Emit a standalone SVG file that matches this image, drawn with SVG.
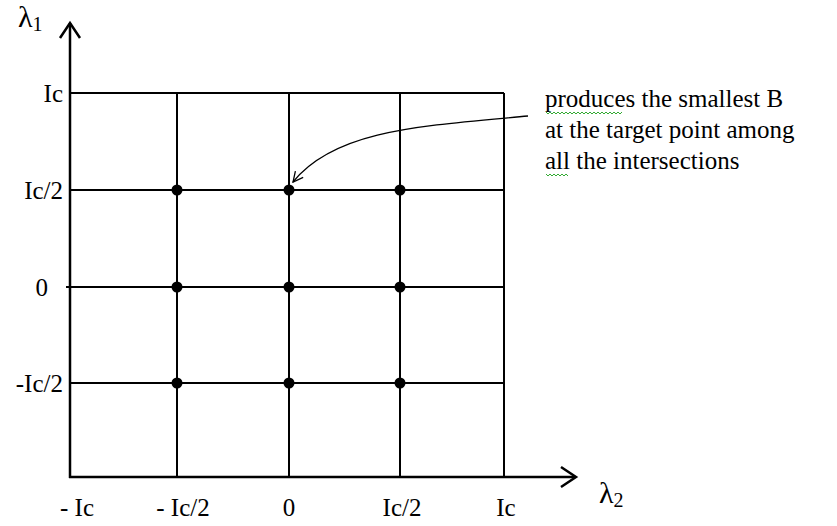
<svg xmlns="http://www.w3.org/2000/svg" width="837" height="526" viewBox="0 0 837 526">
<style>
text{font-family:"Liberation Serif","Times New Roman",serif;fill:#000}
.lab{font-size:25px}
.note{font-size:25px}
.grid{stroke:#000;stroke-width:2;fill:none}
.axis{stroke:#000;stroke-width:2.5;fill:none}
.dot{fill:#000}
.sq{stroke:#3a3;stroke-width:1;fill:none}
</style>
<defs>
<marker id="open" viewBox="0 0 12 12" refX="11" refY="6" markerWidth="12" markerHeight="12" markerUnits="userSpaceOnUse" orient="auto">
<path d="M1 1 L11 6 L1 11" fill="none" stroke="#000" stroke-width="1.3"/>
</marker>
</defs>
<rect width="837" height="526" fill="#fff"/>
<g id="connectors">
<g id="grid">
<line class="grid" x1="70" y1="93" x2="504" y2="93"/>
<line class="grid" x1="70" y1="190" x2="504" y2="190"/>
<line class="grid" x1="66" y1="287" x2="504" y2="287"/>
<line class="grid" x1="70" y1="383" x2="504" y2="383"/>
<line class="grid" x1="177" y1="93" x2="177" y2="477"/>
<line class="grid" x1="289" y1="93" x2="289" y2="477"/>
<line class="grid" x1="400" y1="93" x2="400" y2="477"/>
<line class="grid" x1="504" y1="93" x2="504" y2="477"/>
</g>
<g id="axes">
<line class="axis" x1="70" y1="478" x2="70" y2="23"/>
<path class="axis" d="M60 38 L70 23 L80 38"/>
<line class="axis" x1="69" y1="477" x2="575" y2="477"/>
<path class="axis" d="M561 467 L576 477 L561 487"/>
</g>
<path id="pointer" d="M528 116 C420 126 335 130 293 182" fill="none" stroke="#000" stroke-width="1.3" marker-end="url(#open)"/>
</g>
<g id="points">
<circle class="dot" cx="177" cy="190" r="5.5"/>
<circle class="dot" cx="289" cy="190" r="5.5"/>
<circle class="dot" cx="400" cy="190" r="5.5"/>
<circle class="dot" cx="177" cy="287" r="5.5"/>
<circle class="dot" cx="289" cy="287" r="5.5"/>
<circle class="dot" cx="400" cy="287" r="5.5"/>
<circle class="dot" cx="177" cy="383" r="5.5"/>
<circle class="dot" cx="289" cy="383" r="5.5"/>
<circle class="dot" cx="400" cy="383" r="5.5"/>
</g>
<g id="y-labels">
<text x="18" y="27" font-size="30">λ<tspan font-size="20" dy="4">1</tspan></text>
<text x="63" y="102" text-anchor="end" class="lab">Ic</text>
<text x="63" y="199" text-anchor="end" class="lab">Ic/2</text>
<text x="48" y="296" text-anchor="end" class="lab">0</text>
<text x="63" y="392" text-anchor="end" class="lab">-Ic/2</text>
</g>
<g id="x-labels">
<text x="599" y="503" font-size="30">λ<tspan font-size="20" dy="4">2</tspan></text>
<text x="77" y="516" text-anchor="middle" class="lab">- Ic</text>
<text x="183" y="516" text-anchor="middle" class="lab">- Ic/2</text>
<text x="289" y="516" text-anchor="middle" class="lab">0</text>
<text x="402" y="516" text-anchor="middle" class="lab">Ic/2</text>
<text x="506" y="516" text-anchor="middle" class="lab">Ic</text>
</g>
<g id="annotation">
<text x="545" y="107" class="note">produces the smallest B</text>
<text x="545" y="138" class="note">at the target point among</text>
<text x="545" y="169" class="note">all the intersections</text>
<path class="sq" d="M546 112 l2 2 l2 -2 l2 2 l2 -2 l2 2 l2 -2 l2 2 l2 -2 l2 2 l2 -2 l2 2 l2 -2 l2 2 l2 -2 l2 2 l2 -2 l2 2 l2 -2 l2 2 l2 -2 l2 2 l2 -2 l2 2 l2 -2 l2 2 l2 -2 l2 2 l2 -2 l2 2 l2 -2 l2 2 l2 -2 l2 2 l2 -2 l2 2 l2 -2 l2 2 l2 -2"/>
<path class="sq" d="M546 174 l2 2 l2 -2 l2 2 l2 -2 l2 2 l2 -2 l2 2 l2 -2 l2 2 l2 -2 l2 2"/>
</g>
</svg>
